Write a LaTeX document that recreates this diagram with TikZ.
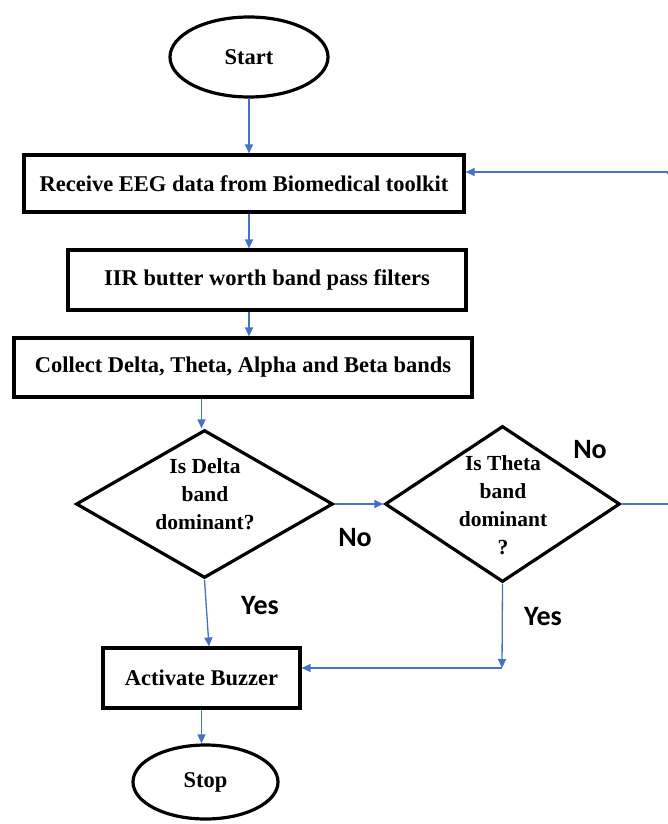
\documentclass[tikz,border=0pt]{standalone}
\usepackage{fontspec}
\setmainfont{Liberation Serif}
\newfontfamily\labelfont{Carlito}
\usetikzlibrary{shapes.geometric,arrows.meta}
\definecolor{flowblue}{RGB}{68,114,196}

\tikzset{
  procbox/.style={draw=black, line width=3.2pt, inner sep=0pt,
    font=\fontsize{22.5}{26}\selectfont\bfseries},
  terminal/.style={draw=black, line width=3.2pt, ellipse, inner sep=0pt,
    font=\fontsize{22.5}{26}\selectfont\bfseries},
  decision/.style={draw=black, line width=3.2pt, diamond, inner sep=0pt},
  decisiontext/.style={align=center, inner sep=0pt,
    font=\fontsize{21.5}{28}\selectfont\bfseries},
  answer/.style={font=\fontsize{28}{30}\labelfont\bfseries, inner sep=0pt},
  flow/.style={draw=flowblue, line width=1.3pt},
  arr/.style={flow, -{Triangle[length=9pt,width=8pt]}},
}

\begin{document}
\begin{tikzpicture}[x=1pt,y=-1pt]
  \useasboundingbox (0,0) rectangle (668,824);

  % terminals and process boxes
  \node[terminal, minimum width=158pt, minimum height=80pt] (start) at (249,57) {Start};
  \node[procbox, minimum width=440pt, minimum height=57pt] (box1) at (244,183.5)
    {Receive EEG data from Biomedical toolkit};
  \node[procbox, minimum width=398pt, minimum height=60pt] (box2) at (267,280)
    {IIR butter worth band pass filters};
  \node[procbox, minimum width=458pt, minimum height=59pt] (box3) at (243,367.5)
    {Collect Delta, Theta, Alpha and Beta bands};
  \node[procbox, minimum width=197pt, minimum height=60pt] (box4) at (201.5,678)
    {Activate Buzzer};
  \node[terminal, minimum width=145pt, minimum height=74pt] (stop) at (205.5,782) {Stop};

  % decisions
  \node[decision, minimum width=257pt, minimum height=148pt] (d1) at (204.5,504) {};
  \node[decisiontext] (d1text) at (205,494) {Is Delta\\band\\dominant?};
  \node[decision, minimum width=235pt, minimum height=156pt] (d2) at (502.5,504) {};
  \node[decisiontext] (d2text) at (503,505) {Is Theta\\band\\dominant\\?};

  % answer labels
  \node[answer] (no1) at (355,538) {No};
  \node[answer] (no2) at (590,450) {No};
  \node[answer] (yes1) at (260,606) {Yes};
  \node[answer] (yes2) at (543,617) {Yes};

  % helper points for the routed connectors
  \coordinate (turn) at (502,668);
  \coordinate (loopb) at (671,504);
  \coordinate (loopt) at (671,172);
  \coordinate (loopup) at (671,165);

  % main flow
  \draw[arr] (start.south) -- (start.south |- box1.north);
  \draw[arr] (box1.south -| start.south) -- (box2.north -| start.south);
  \draw[arr] (box2.south -| start.south) -- (box3.north -| start.south);
  \draw[arr] (box3.south -| box4.north) -- (box4.north |- d1.north);
  \draw[arr] (d1.east) -- (d2.west);
  \draw[arr] (d1.south) -- ([xshift=7.5pt]box4.north);
  \draw[arr] (d2.south) -- (turn);
  \draw[arr] (turn) -- (turn -| box4.east);
  \draw[arr] (box4.south) -- (box4.south |- stop.north);

  % loop back to data reception
  \draw[flow] (d2.east) -- (loopb);
  \draw[arr] (loopb) -- (loopup);
  \draw[arr] (loopt) -- (loopt -| box1.east);
\end{tikzpicture}
\end{document}
